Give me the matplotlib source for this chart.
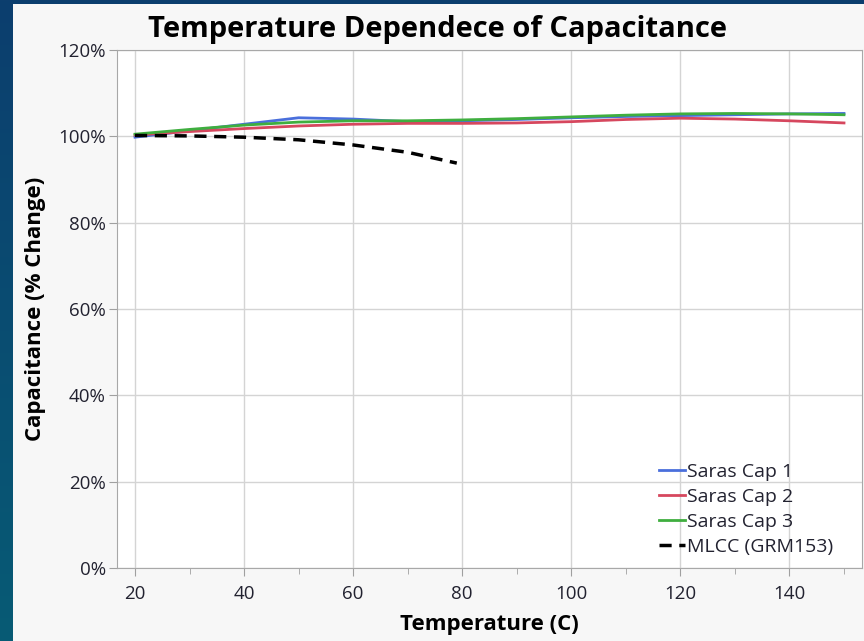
import numpy as np
import matplotlib
matplotlib.use('Agg')
import matplotlib.pyplot as plt
from matplotlib.patches import Rectangle
from matplotlib.colors import LinearSegmentedColormap
from matplotlib.ticker import MultipleLocator, PercentFormatter

plt.rcParams['font.family'] = ['Open Sans', 'DejaVu Sans']

temps = [20, 30, 40, 50, 60, 70, 80, 90, 100, 110, 120, 130, 140, 150]
cap1 = [99.8, 101.3, 102.8, 104.3, 104.0, 103.4, 103.6, 103.9, 104.3, 104.6, 104.8, 105.0, 105.2, 105.3]
cap2 = [100.3, 101.1, 101.8, 102.4, 102.8, 103.0, 103.0, 103.1, 103.4, 103.9, 104.2, 104.0, 103.6, 103.1]
cap3 = [100.5, 101.6, 102.6, 103.3, 103.6, 103.6, 103.8, 104.1, 104.5, 104.9, 105.2, 105.3, 105.2, 105.0]
mlcc_temps = [20, 30, 40, 50, 60, 70, 79]
mlcc = [100.2, 100.1, 99.8, 99.2, 98.0, 96.3, 93.8]

fig = plt.figure(figsize=(8.64, 6.41), dpi=100)

# blue gradient backdrop + light panel
bg = fig.add_axes([0, 0, 1, 1], zorder=-10)
grad = np.linspace(0, 1, 256).reshape(-1, 1)
cm = LinearSegmentedColormap.from_list('bg', ['#0c3e6e', '#075b75'])
bg.imshow(grad, aspect='auto', cmap=cm, extent=[0, 1, 0, 1])
bg.set_axis_off()
fig.patches.append(Rectangle((13 / 864, 0), 1, 1 - 4 / 641, transform=fig.transFigure,
                             facecolor='#f7f7f7', edgecolor='none', zorder=-5))

ax = fig.add_axes([117 / 864, 1 - 568 / 641, 745 / 864, 518 / 641])
ax.set_facecolor('white')

ax.plot(temps, cap1, color='#4a6fdc', lw=2, label='Saras Cap 1')
ax.plot(temps, cap2, color='#d6475e', lw=2, label='Saras Cap 2')
ax.plot(temps, cap3, color='#3fae3f', lw=2, label='Saras Cap 3')
ax.plot(mlcc_temps, mlcc, color='black', lw=2.5, ls=(0, (3.5, 2.2)), label='MLCC (GRM153)')

ax.set_xlim(16.7, 153.3)
ax.set_ylim(0, 120)
ax.xaxis.set_major_locator(MultipleLocator(20))
ax.xaxis.set_minor_locator(MultipleLocator(10))
ax.yaxis.set_major_locator(MultipleLocator(20))
ax.yaxis.set_major_formatter(PercentFormatter(decimals=0))
ax.grid(True, which='major', color='#d4d4d4', lw=1)
ax.set_axisbelow(True)
ax.tick_params(axis='both', which='major', length=6, color='#a0a0a0', labelsize=13.5,
               labelcolor='#222230')
ax.tick_params(axis='x', which='major', pad=6)
ax.tick_params(axis='y', which='major', pad=2)
ax.tick_params(axis='x', which='minor', length=4, color='#a0a0a0')
for s in ax.spines.values():
    s.set_color('#a8a8a8')

fig.text(438 / 864, 1 - 29 / 641, 'Temperature Dependece of Capacitance', fontsize=21,
         fontweight='bold', ha='center', va='center')
ax.set_xlabel('Temperature (C)', fontsize=16, fontweight='bold', labelpad=8)
ax.set_ylabel('Capacitance (% Change)', fontsize=16, fontweight='bold', labelpad=9)

leg = ax.legend(loc='lower right', bbox_to_anchor=(0.985, -0.01), frameon=False, fontsize=14,
                handlelength=1.35, handletextpad=0.1, labelspacing=0.35)
for t in leg.get_texts():
    t.set_color('#222230')

fig.savefig('out.png', dpi=100)
